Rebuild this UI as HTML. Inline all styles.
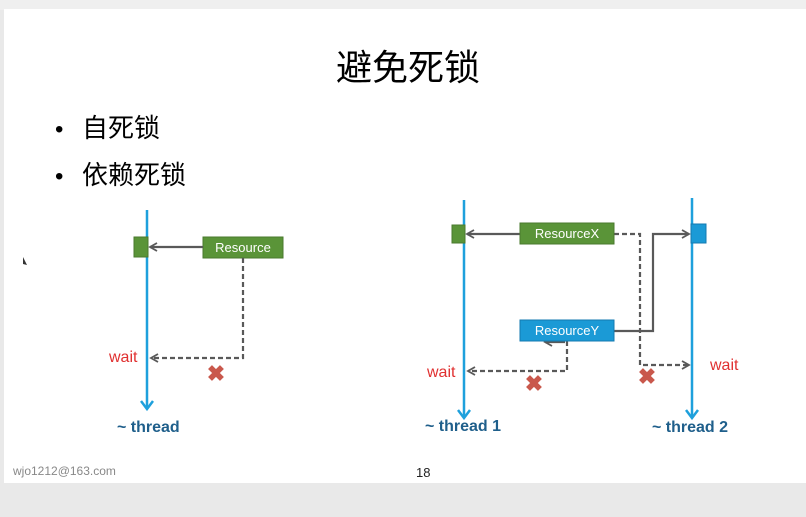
<!DOCTYPE html>
<html><head><meta charset="utf-8"><style>
html,body{margin:0;padding:0;width:806px;height:517px;overflow:hidden;background:#e9e9e9}
svg{display:block}
</style></head><body>
<svg width="806" height="517" xmlns="http://www.w3.org/2000/svg" font-family="Liberation Sans, Noto Sans CJK SC, sans-serif">
<defs>
<marker id="ag" markerWidth="10" markerHeight="10" refX="8" refY="5" orient="auto" markerUnits="userSpaceOnUse"><path d="M1,1 L8,5 L1,9" fill="none" stroke="#595959" stroke-width="1.8"/></marker>
</defs>
<rect x="0" y="0" width="806" height="10" fill="#efefef"/>
<rect x="4" y="9" width="802" height="474" fill="#fff"/>
<text x="408" y="80" font-size="36" text-anchor="middle" fill="#000">避免死锁</text>
<text x="55" y="137" font-size="24">•</text><text x="82" y="137" font-size="26">自死锁</text>
<text x="55" y="184" font-size="24">•</text><text x="82" y="184" font-size="26">依赖死锁</text>
<path d="M23,257 l4,8 l-4,-1z" fill="#333"/>
<g fill="none" stroke-width="2.5" stroke="#1ea0dc">
<line x1="147" y1="210" x2="147" y2="408"/>
<polyline points="141,401 147,409 153,401"/>
<line x1="464" y1="200" x2="464" y2="417"/>
<polyline points="458,410 464,418 470,410"/>
<line x1="692" y1="198" x2="692" y2="417"/>
<polyline points="686,410 692,418 698,410"/>
</g>
<rect x="134" y="237" width="14" height="20" fill="#5a9438" stroke="#4a7a2e"/>
<rect x="203" y="237" width="80" height="21" fill="#5a9438" stroke="#4a7a2e"/>
<text x="243" y="252" font-size="13" fill="#fff" text-anchor="middle">Resource</text>
<g stroke="#595959" stroke-width="2.2" fill="none">
<line x1="203" y1="247" x2="150" y2="247" marker-end="url(#ag)"/>
<polyline points="243,258 243,358 151,358" stroke-dasharray="5,3" marker-end="url(#ag)"/>
<line x1="520" y1="234" x2="467" y2="234" marker-end="url(#ag)"/>
<polyline points="614,331 653,331 653,234 689,234" marker-end="url(#ag)"/>
<polyline points="614,234 640,234 640,365 689,365" stroke-dasharray="5,3" marker-end="url(#ag)"/>
<polyline points="567,341 567,371 468,371" stroke-dasharray="5,3" marker-end="url(#ag)"/>
<line x1="565" y1="342" x2="545" y2="342" marker-end="url(#ag)"/>
</g>
<rect x="452" y="225" width="13" height="18" fill="#5a9438" stroke="#4a7a2e"/>
<rect x="520" y="223" width="94" height="21" fill="#5a9438" stroke="#4a7a2e"/>
<text x="567" y="238" font-size="13" fill="#fff" text-anchor="middle">ResourceX</text>
<rect x="691" y="224" width="15" height="19" fill="#1b9ad6" stroke="#137ab0"/>
<rect x="520" y="320" width="94" height="21" fill="#1b9ad6" stroke="#137ab0"/>
<text x="567" y="335" font-size="13" fill="#fff" text-anchor="middle">ResourceY</text>
<g fill="#e03030" font-size="16">
<text x="109" y="362">wait</text><text x="427" y="377">wait</text><text x="710" y="370">wait</text>
</g>
<g fill="#c9584c" font-size="22" font-weight="bold" text-anchor="middle">
<text x="216" y="381">✖</text><text x="534" y="391">✖</text><text x="647" y="384">✖</text>
</g>
<g fill="#1f5f8b" font-size="16" font-weight="bold">
<text x="117" y="432">~ thread</text><text x="425" y="431">~ thread 1</text><text x="652" y="432">~ thread 2</text>
</g>
<text x="13" y="475" font-size="12" fill="#888">wjo1212@163.com</text>
<text x="416" y="477" font-size="13" fill="#222">18</text>
</svg>
</body></html>
